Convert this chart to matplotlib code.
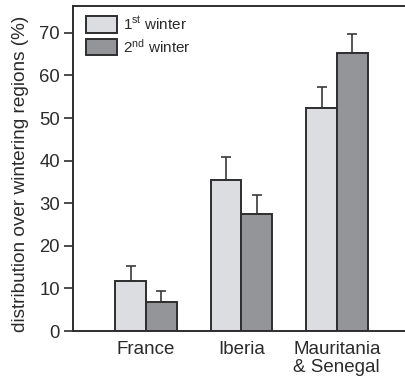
import matplotlib
matplotlib.use("Agg")
import matplotlib.pyplot as plt
import numpy as np

plt.rcParams['font.family'] = ['Liberation Sans', 'DejaVu Sans']
plt.rcParams['mathtext.fontset'] = 'custom'
plt.rcParams['mathtext.rm'] = 'Liberation Sans'
plt.rcParams['mathtext.it'] = 'Liberation Sans'

regions = ["France", "Iberia", "Mauritania\n& Senegal"]
first_winter = [11.8, 35.5, 52.3]
first_winter_err = [3.5, 5.3, 4.9]
second_winter = [6.7, 27.4, 65.2]
second_winter_err = [2.7, 4.6, 4.6]
yticks = [0, 10, 20, 30, 40, 50, 60, 70]

text_col = "#2b2b2b"
edge_col = "#2e2e2e"
light = "#dcdde0"
dark = "#939598"

fig = plt.figure(figsize=(4.05, 3.8), dpi=100)
ax = fig.add_axes([73 / 405, 1 - 331 / 380, 1 - 73 / 405, (331 - 6) / 380])

x = np.arange(len(regions))
w = 0.32

# upward-only error bars, drawn beneath the bars
err_kw = dict(ecolor="#3a3a3a", elinewidth=1.2, capsize=3.6, capthick=1.2, zorder=1)
ax.errorbar(x - w / 2, first_winter, yerr=[np.zeros(3), first_winter_err], fmt="none", **err_kw)
ax.errorbar(x + w / 2, second_winter, yerr=[np.zeros(3), second_winter_err], fmt="none", **err_kw)
ax.bar(x - w / 2, first_winter, w, color=light, edgecolor=edge_col, linewidth=1.4,
       label="1$^{\\mathregular{st}}$ winter", zorder=2)
ax.bar(x + w / 2, second_winter, w, color=dark, edgecolor=edge_col, linewidth=1.4,
       label="2$^{\\mathregular{nd}}$ winter", zorder=2)

ax.set_xlim(-0.764, 2.712)
ax.set_ylim(0, 76.3)
ax.set_yticks(yticks)
ax.set_xticks(x)
ax.set_xticklabels(regions)
for lbl in ax.get_xticklabels():
    lbl.set_linespacing(1.1)
    lbl.set_multialignment("left")

ax.tick_params(axis="y", direction="out", length=6.5, width=1.2, pad=3,
               labelsize=13.3, colors=edge_col, labelcolor=text_col)
ax.tick_params(axis="x", length=0, pad=7, labelsize=13.5, labelcolor=text_col)

ax.spines["right"].set_visible(False)
for s in ("left", "top", "bottom"):
    ax.spines[s].set_linewidth(1.4)
    ax.spines[s].set_color(edge_col)

ax.set_ylabel("distribution over wintering regions (%)", fontsize=13.7, color=text_col)
ax.yaxis.set_label_coords(-0.1325, 0.485)

leg = ax.legend(loc="upper left", bbox_to_anchor=(13 / 332, 1 - 9 / 325), frameon=False,
                fontsize=11, handlelength=2.0, handleheight=1.25, labelspacing=0.33,
                handletextpad=0.4, borderpad=0, borderaxespad=0)
for t in leg.get_texts():
    t.set_color(text_col)

fig.savefig("out.png", dpi=100)
